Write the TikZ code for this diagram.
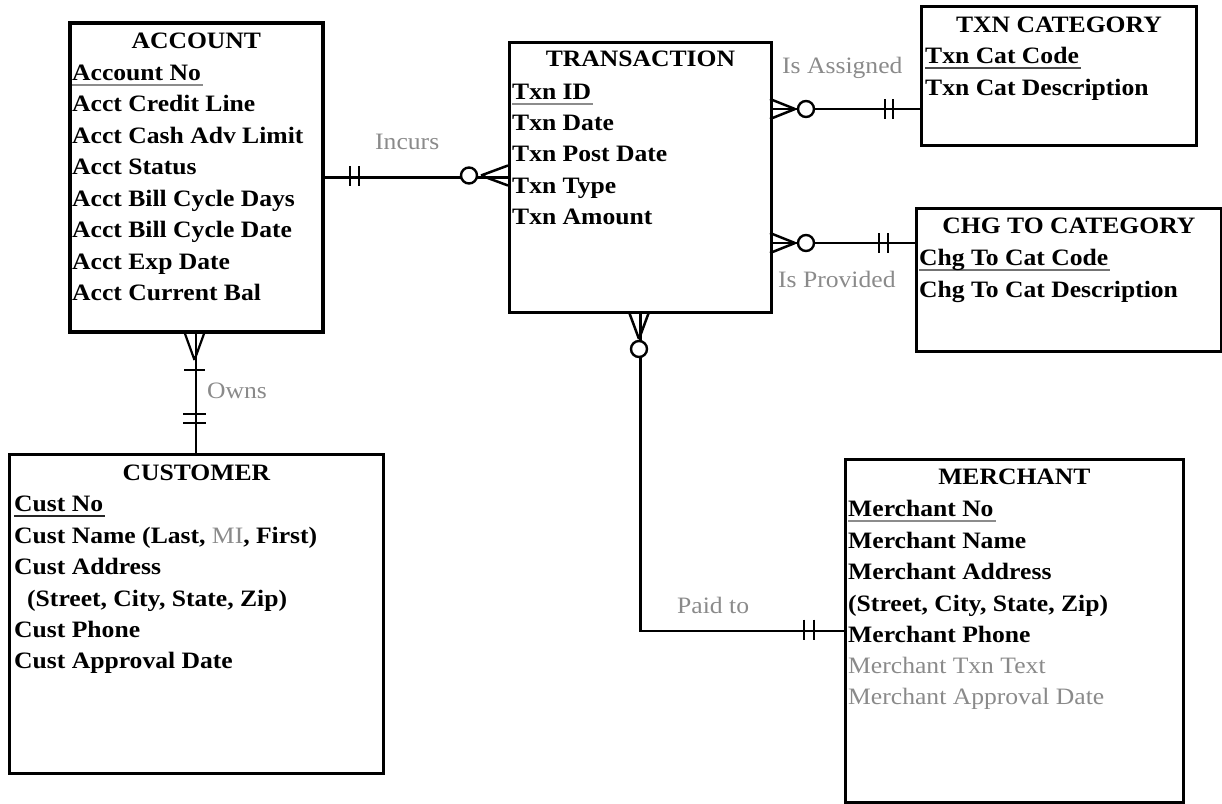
\documentclass[tikz,border=0pt]{standalone}
\usepackage{fontspec}
\setmainfont{Liberation Serif}[FakeStretch=1.09]
\definecolor{lbl}{HTML}{8A8A8A}
\newcommand\pk[2][black!45]{\setbox0=\hbox{#2}\rlap{\color{#1}\rule[-6pt]{\dimexpr\wd0+2pt\relax}{2pt}}\box0}
\begin{document}
\begin{tikzpicture}[x=1pt,y=-1pt,
  ent/.style={draw, line width=2.8pt, anchor=north west, inner sep=0pt},
  ttl/.style={anchor=base, inner sep=0pt, font=\fontsize{23.5}{28}\selectfont\bfseries},
  att/.style={anchor=base west, inner sep=0pt, font=\fontsize{23.5}{28}\selectfont\bfseries},
  dim/.style={anchor=base west, inner sep=0pt, font=\fontsize{23.5}{28}\selectfont, text=lbl},
  lab/.style={anchor=base west, inner sep=0pt, font=\fontsize{23.5}{28}\selectfont, text=lbl},
  conn/.style={line width=2.5pt},
  ring/.style={line width=2.4pt, fill=white}]
\useasboundingbox (0,0) rectangle (1222,803);

% entities
\node[ent, line width=3.6pt, minimum width=253pt, minimum height=309pt] (acc) at (68,21) {};
\node[ent, minimum width=262pt, minimum height=270pt] (txn) at (508,41) {};
\node[ent, minimum width=275pt, minimum height=139pt] (tcat) at (920,5) {};
\node[ent, minimum width=305pt, minimum height=143pt] (chg) at (915,207) {};
\node[ent, minimum width=374pt, minimum height=319pt] (cust) at (8,453) {};
\node[ent, minimum width=338pt, minimum height=343pt] (mer) at (844,458) {};

% ACCOUNT
\node[ttl] (accT) at (acc.north |- 0,48) {ACCOUNT};
\node[att] (a1) at (72,80) {\pk{Account No}};
\node[att] (a2) at (72,111.5) {Acct Credit Line};
\node[att] (a3) at (72,143) {Acct Cash Adv Limit};
\node[att] (a4) at (72,174.5) {Acct Status};
\node[att] (a5) at (72,206) {Acct Bill Cycle Days};
\node[att] (a6) at (72,237.5) {Acct Bill Cycle Date};
\node[att] (a7) at (72,269) {Acct Exp Date};
\node[att] (a8) at (72,300.5) {Acct Current Bal};

% TRANSACTION
\node[ttl] (txnT) at (txn.north |- 0,66) {TRANSACTION};
\node[att] (t1) at (512,99) {\pk{Txn ID}};
\node[att] (t2) at (512,130) {Txn Date};
\node[att] (t3) at (512,161.5) {Txn Post Date};
\node[att] (t4) at (512,193) {Txn Type};
\node[att] (t5) at (512,224) {Txn Amount};

% TXN CATEGORY
\node[ttl] (tcatT) at (tcat.north |- 0,32) {TXN CATEGORY};
\node[att] (c1) at (925,63) {\pk[black!70]{Txn Cat Code}};
\node[att] (c2) at (925,95) {Txn Cat Description};

% CHG TO CATEGORY
\node[ttl] (chgT) at (chg.north |- 0,233) {CHG TO CATEGORY};
\node[att] (g1) at (919,265) {\pk[black!55]{Chg To Cat Code}};
\node[att] (g2) at (919,297) {Chg To Cat Description};

% CUSTOMER
\node[ttl] (custT) at (cust.north |- 0,480) {CUSTOMER};
\node[att] (u1) at (14,511) {\pk[black!85]{Cust No}};
\node[att] (u2) at (14,543) {Cust Name (Last, {\mdseries\color{lbl}MI}, First)};
\node[att] (u3) at (14,574) {Cust Address};
\node[att] (u4) at (27,606) {(Street, City, State, Zip)};
\node[att] (u5) at (14,637) {Cust Phone};
\node[att] (u6) at (14,668) {Cust Approval Date};

% MERCHANT
\node[ttl] (merT) at (mer.north |- 0,484) {MERCHANT};
\node[att] (m1) at (848,516) {\pk{Merchant No}};
\node[att] (m2) at (848,548) {Merchant Name};
\node[att] (m3) at (848,579) {Merchant Address};
\node[att] (m4) at (848,611) {(Street, City, State, Zip)};
\node[att] (m5) at (848,642) {Merchant Phone};
\node[dim] (m6) at (848,673) {Merchant Txn Text};
\node[dim] (m7) at (848,704) {Merchant Approval Date};

% connectors
\draw[conn] (acc.east) -- (acc.east -| txn.west);
\draw[conn] (txn.east |- 0,109) -- (tcat.west |- 0,109);
\draw[conn] (txn.east |- 0,243) -- (chg.west |- 0,243);
\draw[conn, line width=2.2pt] (acc.south) -- (acc.south |- cust.north);
\draw[conn] (txn.south) |- (mer.west);

% Incurs markers
\draw[conn] (350,166) -- (350,186) (359,166) -- (359,186);
\draw[conn] (481,175.5) -- (508,165.5) (481,175.5) -- (508,185.5);
\draw[ring] (469,175.5) circle[radius=8];
% Is Assigned markers
\draw[conn] (795,109) -- (770,99) (795,109) -- (770,119);
\draw[ring] (806,109) circle[radius=8];
\draw[conn] (885,99) -- (885,119) (893,99) -- (893,119);
% Is Provided markers
\draw[conn] (795,243) -- (770,233) (795,243) -- (770,253);
\draw[ring] (806,243) circle[radius=8];
\draw[conn] (879,233) -- (879,253) (888,233) -- (888,253);
% Owns markers
\draw[conn, line width=2.2pt] (194.5,360) -- (184,331) (194.5,360) -- (205,331);
\draw[conn, line width=2.2pt] (184,370) -- (205,370);
\draw[conn] (183,414) -- (206,414) (183,423) -- (206,423);
% Paid to markers
\draw[conn] (639,339) -- (629,312) (639,339) -- (649,312);
\draw[ring] (639,349) circle[radius=8];
\draw[conn] (804,619.5) -- (804,639.5) (814,619.5) -- (814,639.5);

% labels
\node[lab] (lInc) at (375,149) {Incurs};
\node[lab] (lAsg) at (782,73) {Is Assigned};
\node[lab] (lPrv) at (778,287) {Is Provided};
\node[lab] (lOwn) at (207,398) {Owns};
\node[lab] (lPaid) at (677,613) {Paid to};
\end{tikzpicture}
\end{document}
